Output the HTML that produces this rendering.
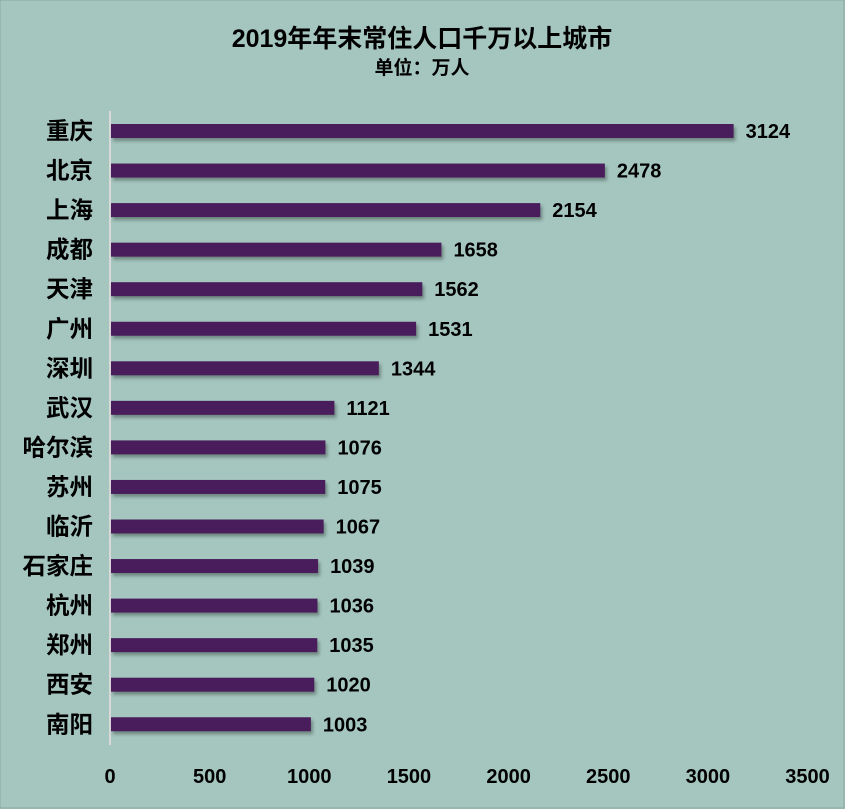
<!DOCTYPE html>
<html><head><meta charset="utf-8"><style>
body{margin:0;width:845px;height:809px;background:#a5c6bf;overflow:hidden}
svg{display:block;font-family:"Liberation Sans","Noto Sans CJK SC",sans-serif}
</style></head><body>
<svg id="c" width="845" height="809">
<defs><filter id="sh" x="-5%" y="-50%" width="110%" height="250%"><feDropShadow dx="2" dy="3" stdDeviation="1.5" flood-color="#2a3a36" flood-opacity="0.45"/></filter></defs>
<rect x="0" y="0" width="844" height="808" fill="#a5c6bf" stroke="#8aa8a2"/>
<text x="422" y="47" text-anchor="middle" font-size="25" font-weight="bold" fill="#000">2019年年末常住人口千万以上城市</text>
<text x="422" y="74" text-anchor="middle" font-size="19" font-weight="bold" fill="#000">单位：万人</text>
<line x1="110" y1="111" x2="110" y2="745" stroke="#d9d9d9" stroke-width="2"/>
<g id="bars"></g><g id="ticks"></g>
</svg>
<script>
const categories=["重庆","北京","上海","成都","天津","广州","深圳","武汉","哈尔滨","苏州","临沂","石家庄","杭州","郑州","西安","南阳"];
const values=[3124,2478,2154,1658,1562,1531,1344,1121,1076,1075,1067,1039,1036,1035,1020,1003];
const tickValues=[0,500,1000,1500,2000,2500,3000,3500];
const NS="http://www.w3.org/2000/svg";
const x=v=>111+v*0.1993;
const y=i=>131+i*39.55;
const bars=document.getElementById('bars'),ticks=document.getElementById('ticks');
function mk(tag,attrs,parent){const e=document.createElementNS(NS,tag);for(const k in attrs)e.setAttribute(k,attrs[k]);parent.appendChild(e);return e;}
categories.forEach((c,i)=>{
  const r=mk('rect',{x:x(0),y:y(i)-7,width:x(values[i])-x(0),height:14,fill:'#4a1f5c',filter:'url(#sh)'},bars);
  
  
  const l=mk('text',{x:93,y:y(i)+8,'text-anchor':'end','font-size':23.5,'font-weight':'bold',fill:'#000'},bars);
  l.textContent=c;
  
  
  const v=mk('text',{x:x(values[i])+12,y:y(i)+7,'font-size':20,'font-weight':'bold',fill:'#000'},bars);
  v.textContent=values[i];
  
  
});
tickValues.forEach(t=>{
  const e=mk('text',{x:x(t)-1,y:783,'text-anchor':'middle','font-size':20,'font-weight':'bold',fill:'#000'},ticks);
  e.textContent=t;
  
  
});
</script>
</body></html>
